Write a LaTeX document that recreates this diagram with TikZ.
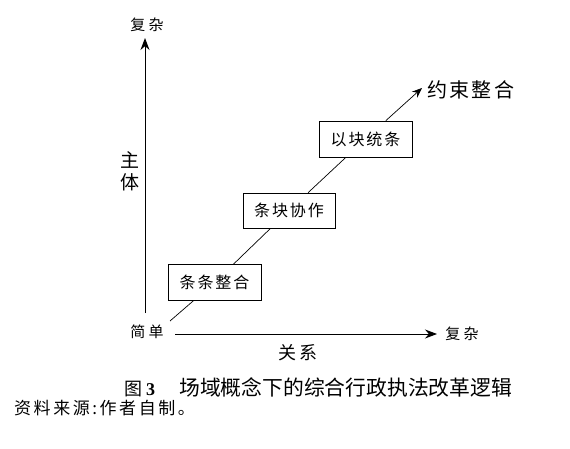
\documentclass[tikz,border=0pt]{standalone}
\usepackage{fontspec}
\setmainfont{Liberation Serif}
\newfontfamily\fang{Noto Sans CJK SC}
\newfontfamily\fangsp{Noto Sans CJK SC}[LetterSpace=12]
\newfontfamily\fangax{Noto Sans CJK SC}[LetterSpace=22]
\newfontfamily\fangfoot{Noto Sans CJK SC}[LetterSpace=15]
\newfontfamily\hei{Noto Sans CJK SC}
\usetikzlibrary{arrows.meta}
\begin{document}
\begin{tikzpicture}[x=1pt,y=1pt,
  stage/.style={draw, line width=0.7pt, fill=white, minimum width=93pt, minimum height=36pt, inner sep=0pt, font=\fangsp\fontsize{16}{20}\selectfont},
  axlab/.style={inner sep=0pt, font=\fangax\fontsize{15}{18}\selectfont},
  axtitle/.style={inner sep=0pt, align=center, font=\fang\fontsize{19}{22}\selectfont},
  axis/.style={line width=1pt, -{Stealth[length=12pt,width=9pt]}},
  conn/.style={line width=0.7pt},
  connarrow/.style={line width=0.7pt, -{Stealth[length=10pt,width=8pt]}}]
\useasboundingbox (0,0) rectangle (570,448);
% vertical axis
\coordinate (vb) at (145,135);
\coordinate (vt) at (145,410);
\draw[axis] (vb) -- (vt);
\node[axlab] (ytop) at (147,423) {复杂};
\node[axtitle] (ytitle) at (130,277) {主\\体};
% horizontal axis
\coordinate (hs) at (175,114);
\coordinate (he) at (437,114);
\draw[axis] (hs) -- (he);
\node[axlab] (origin) at (147,116) {简单};
\node[axlab] (xright) at (462,114) {复杂};
\node[axlab, font=\fangsp\fontsize{18}{21}\selectfont] (xtitle) at (298,95) {关系};
% diagonal path with stages
\coordinate (ds) at (170,127);
\node[stage] (b1) at (214.5,165.5) {条条整合};
\node[stage, minimum width=92pt, minimum height=35pt] (b2) at (289,237.5) {条块协作};
\node[stage] (b3) at (365.5,309) {以块统条};
\coordinate (dt) at (422,360);
\draw[conn] (ds) -- (b1);
\draw[conn] (b1) -- (b2);
\draw[conn] (b2) -- (b3);
\draw[connarrow] (b3) -- (dt);
\node[anchor=west, inner sep=0pt, font=\fangsp\fontsize{20}{23}\selectfont] (goal) at (427,358) {约束整合};
% caption
\node[anchor=west, inner sep=0pt] (cap) at (124,61) {\hei\fontsize{18}{20}\selectfont 图\hspace{4pt}{\rmfamily\bfseries 3}\hspace{24pt}\fontsize{20.8}{22}\selectfont 场域概念下的综合行政执法改革逻辑};
\node[anchor=west, inner sep=0pt, font=\fangfoot\fontsize{17}{20}\selectfont] (src) at (14,40) {资料来源:作者自制。};
\end{tikzpicture}
\end{document}
